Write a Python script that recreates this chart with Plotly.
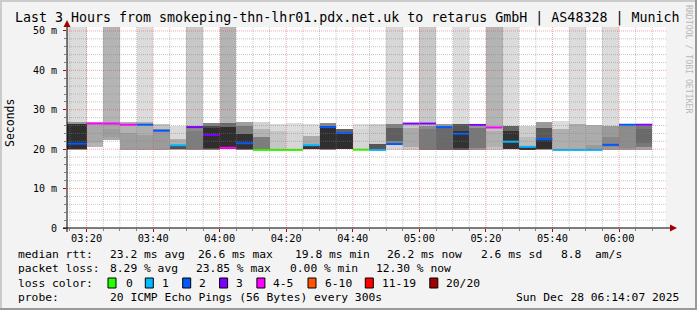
import plotly.graph_objects as go
import pandas as pd

# ---------------- data ----------------
GRAPH_START = pd.Timestamp("2025-12-28 03:14:07")
GRAPH_END = pd.Timestamp("2025-12-28 06:14:07")
Y_MAX = 51.0
TOP = 60.0  # smoke going off the top of the scale

# end time of every 5-minute (300 s) sample
block_end = list(pd.date_range("2025-12-28 03:20", periods=35, freq="5min"))

median_ms = [21.4, 26.5, 26.5, 26.2, 26.2, 24.7, 21.0, 25.6, 23.6, 20.35,
             21.5, 19.8, 19.8, 19.8, 21.0, 25.6, 24.1, 19.85, 19.8, 21.3,
             26.5, 26.5, 25.6, 23.9, 26.15, 25.5, 21.9, 20.6, 22.5, 19.8,
             19.8, 19.8, 21.1, 26.2, 26.2]
loss_class = [2, 4, 4, 4, 2, 2, 1, 3, 3, 4, 2, 0, 0, 0, 1, 2, 2, 0, 1, 2,
              3, 3, 2, 2, 3, 4, 1, 1, 2, 1, 1, 1, 2, 2, 3]

# smoke layers (outer -> inner): low, high, gray level
smoke1_lo = [19.7, 20.6, 22.4, 19.8, 19.8, 19.8, 19.9, 19.8, 19.8, 20.0,
             19.8, 19.8, 19.8, 19.8, 19.9, 19.9, 20.0, 19.8, 19.8, 19.7,
             19.8, 19.8, 19.8, 19.8, 19.8, 19.7, 19.8, 20.0, 19.9, 19.8,
             19.8, 19.8, 19.8, 19.8, 19.8]
smoke1_hi = [TOP, 27.0, TOP, 26.9, TOP, 26.3, 25.9, TOP, 26.6, TOP,
             27.0, 27.0, 26.5, 26.6, 26.5, 26.6, 25.2, 26.4, 26.5, TOP,
             26.4, TOP, 26.5, TOP, 26.3, TOP, TOP, 25.8, 27.0, 27.2,
             TOP, 26.1, TOP, 26.4, 26.4]
smoke1_gray = [220, 180, 180, 178, 220, 195, 218, 200, 130, 180,
               160, 210, 218, 222, 220, 136, 100, 222, 205, 215,
               200, 200, 155, 220, 150, 180, 220, 205, 155, 220,
               220, 172, 220, 155, 165]

smoke2_lo = [19.8, 21.5, 22.4, 19.8, 19.8, 19.9, 19.9, 19.8, 20.0, 20.0,
             19.9, 19.8, 19.8, 19.8, 20.0, 20.0, 20.0, 19.8, 19.8, 21.3,
             20.5, 19.8, 19.9, 19.9, 20.2, 19.7, 20.0, 20.0, 20.0, 19.8,
             19.8, 19.8, 19.8, 20.2, 20.5]
smoke2_hi = [26.8, 26.0, 26.8, 24.0, 26.8, 25.0, 22.7, 25.8, 26.0, 26.6,
             26.0, 25.0, 24.5, 24.5, 23.3, 26.0, 24.0, 25.0, 21.2, 26.5,
             25.5, 26.0, 25.4, 26.4, 25.5, 25.5, 25.8, 23.0, 25.5, 25.0,
             26.3, 21.0, 26.0, 25.8, 26.0]
smoke2_gray = [150, 168, 168, 158, 175, 155, 175, 140, 75, 105,
               120, 180, 198, 214, 170, 46, 46, 214, 85, 130,
               170, 140, 106, 85, 120, 195, 100, 188, 90, 175,
               172, 155, 155, 140, 120]

smoke3_lo = [20.1, None, 23.0, None, 19.8, None, 20.0, 20.0, 20.2, 20.1,
             20.0, 19.8, None, None, 20.0, None, None, None, None, 22.0,
             None, 19.9, None, 20.2, None, 20.5, 20.1, 20.0, 20.0, None,
             None, None, 20.5, None, 21.5]
smoke3_hi = [26.3, None, 25.0, None, 23.5, None, 21.0, 24.5, 25.3, 25.7,
             23.8, 23.0, None, None, 20.8, None, None, None, None, 25.5,
             None, 25.0, None, 24.5, None, 24.5, 24.5, 20.5, 22.4, None,
             None, None, 23.0, None, 25.0]
smoke3_gray = [46, None, 158, None, 158, None, 80, 125, 46, 46,
               50, 125, None, None, 50, None, None, None, None, 95,
               None, 122, None, 50, None, 176, 50, 50, 46, None,
               None, None, 136, None, 106]

loss_labels = ["0", "1", "2", "3", "4-5", "6-10", "11-19", "20/20"]
loss_colors = ["#26ff00", "#00b8ff", "#0059ff", "#7e00ff", "#ff00ff",
               "#ff5500", "#ff0000", "#a10000"]

x_tick_times = list(pd.date_range("2025-12-28 03:20", "2025-12-28 06:00", freq="20min"))
x_tick_labels = [t.strftime("%H:%M") for t in x_tick_times]
y_tick_vals = [0, 10, 20, 30, 40, 50]
y_tick_labels = ["0", "10 m", "20 m", "30 m", "40 m", "50 m"]

title_text = "Last 3 Hours from smokeping-thn-lhr01.pdx.net.uk to retarus GmbH | AS48328 | Munich"
rtt_items = ["median rtt:", "23.2 ms avg", "26.6 ms max", "19.8 ms min",
             "26.2 ms now", "2.6 ms sd", "8.8", "am/s"]
loss_items = ["packet loss:", "8.29 % avg", "23.85 % max", "0.00 % min", "12.30 % now"]
probe_items = ["probe:", "20 ICMP Echo Pings (56 Bytes) every 300s"]
stamp_text = "Sun Dec 28 06:14:07 2025"

# ---------------- geometry helpers ----------------
W, H = 697, 310
PL, PR, PT, PB = 67, 666, 27, 228


def px(xp):
    return (xp - PL) / (PR - PL)


def py(yp):
    return (PB - yp) / (PB - PT)


block_start = [GRAPH_START] + block_end[:-1]
centers = [s + (e - s) / 2 for s, e in zip(block_start, block_end)]
widths = [(e - s).total_seconds() * 1000 for s, e in zip(block_start, block_end)]

fig = go.Figure()


def gray(g):
    return None if g is None else "rgb(%d,%d,%d)" % (g, g, g)


for lo_l, hi_l, g_l in [(smoke1_lo, smoke1_hi, smoke1_gray),
                        (smoke2_lo, smoke2_hi, smoke2_gray),
                        (smoke3_lo, smoke3_hi, smoke3_gray)]:
    xs, bs, hs, ws, cs = [], [], [], [], []
    for c, w, lo, hi, g in zip(centers, widths, lo_l, hi_l, g_l):
        if lo is None:
            continue
        xs.append(c)
        bs.append(lo)
        hs.append(hi - lo)
        ws.append(w)
        cs.append(gray(g))
    fig.add_trace(go.Bar(x=xs, y=hs, base=bs, width=ws,
                         marker=dict(color=cs, line=dict(width=0)),
                         hoverinfo="skip"))

# median lines, coloured by loss
for ci, col in enumerate(loss_colors):
    xs, ys = [], []
    for s, e, m, lc in zip(block_start, block_end, median_ms, loss_class):
        if lc == ci:
            xs += [s, e, None]
            ys += [m, m, None]
    if xs:
        fig.add_trace(go.Scatter(x=xs, y=ys, mode="lines",
                                 line=dict(color=col, width=2),
                                 hoverinfo="skip", connectgaps=False))

# grid drawn over the graph (rrdtool style)
minor_times = [t for t in pd.date_range("2025-12-28 03:15", "2025-12-28 06:10", freq="5min")
               if t.minute % 20 != 0]
gx, gy = [], []
for t in minor_times:
    gx += [t, t, None]
    gy += [0, Y_MAX, None]
for v in range(2, 51, 2):
    if v % 10:
        gx += [GRAPH_START, GRAPH_END, None]
        gy += [v, v, None]
fig.add_trace(go.Scatter(x=gx, y=gy, mode="lines",
                         line=dict(color="rgba(128,128,128,0.45)", width=1, dash="1px,1px"),
                         hoverinfo="skip"))
mx, my = [], []
for t in x_tick_times:
    mx += [t, t, None]
    my += [0, Y_MAX, None]
for v in y_tick_vals[1:]:
    mx += [GRAPH_START, GRAPH_END, None]
    my += [v, v, None]
fig.add_trace(go.Scatter(x=mx, y=my, mode="lines",
                         line=dict(color="rgba(230,60,60,0.45)", width=1, dash="1px,1px"),
                         hoverinfo="skip"))

MONO = "DejaVu Sans Mono"

annotations = []


def txt(x, y, s, size=11.3, xanchor="left", color="#000000", angle=0):
    annotations.append(dict(x=px(x), y=py(y), xref="paper", yref="paper", text=s,
                            showarrow=False, xanchor=xanchor, yanchor="middle",
                            textangle=angle,
                            font=dict(family=MONO, size=size, color=color)))


txt(347, 18, title_text, size=13.3, xanchor="center")
txt(10, 123, "Seconds", size=11.5, xanchor="center", angle=-90)
txt(689, 59, "RRDTOOL / TOBI OETIKER", size=8.2, xanchor="center", color="#b8b8b8", angle=90)

rtt_x = [16, 108, 195.6, 293.3, 384.9, 479.1, 558.7, 593]
for x, s in zip(rtt_x, rtt_items):
    txt(x, 254, s)
loss_x = [16, 108, 194.2, 288, 374.2]
for x, s in zip(loss_x, loss_items):
    txt(x, 268.5, s)
txt(16, 283, "loss color:")
box_x = [108, 145.3, 182.7, 219.6, 256.9, 308, 365.3, 429.8]
lab_x = [123.6, 160, 196.9, 233.8, 271.1, 322.7, 380, 444.4]
shapes = []
for bx, lx, lab, col in zip(box_x, lab_x, loss_labels, loss_colors):
    txt(lx, 283, lab)
    shapes.append(dict(type="rect", xref="paper", yref="paper",
                       x0=px(bx), x1=px(bx + 8), y0=py(288), y1=py(278),
                       fillcolor=col, line=dict(color="#000000", width=1)))
for x, s in zip([16, 108], probe_items):
    txt(x, 297, s)
txt(681, 297, stamp_text, xanchor="right")

# axes with arrows
shapes.append(dict(type="line", xref="paper", yref="paper", x0=px(63), x1=px(672),
                   y0=py(228), y1=py(228), line=dict(color="#000000", width=1)))
shapes.append(dict(type="line", xref="paper", yref="paper", x0=px(67), x1=px(67),
                   y0=py(232), y1=py(25), line=dict(color="#000000", width=1)))
shapes.append(dict(type="path", xref="paper", yref="paper",
                   path="M %f %f L %f %f L %f %f Z" % (px(63.5), py(27), px(70.5), py(27), px(67), py(20)),
                   fillcolor="#a00000", line=dict(width=0)))
shapes.append(dict(type="path", xref="paper", yref="paper",
                   path="M %f %f L %f %f L %f %f Z" % (px(670), py(224.5), px(670), py(231.5), px(677), py(228)),
                   fillcolor="#a00000", line=dict(width=0)))
# frame
shapes.append(dict(type="line", xref="paper", yref="paper", x0=px(0), x1=px(697),
                   y0=py(1), y1=py(1), line=dict(color="#cbcbcb", width=2)))
shapes.append(dict(type="line", xref="paper", yref="paper", x0=px(1), x1=px(1),
                   y0=py(0), y1=py(310), line=dict(color="#cbcbcb", width=2)))
shapes.append(dict(type="line", xref="paper", yref="paper", x0=px(0), x1=px(697),
                   y0=py(309), y1=py(309), line=dict(color="#999999", width=2)))
shapes.append(dict(type="line", xref="paper", yref="paper", x0=px(696), x1=px(696),
                   y0=py(0), y1=py(310), line=dict(color="#999999", width=2)))

fig.update_layout(
    width=W, height=H, autosize=False,
    margin=dict(l=PL, r=W - PR, t=PT, b=H - PB, pad=0),
    paper_bgcolor="#f3f3f3", plot_bgcolor="#ffffff",
    showlegend=False, barmode="overlay", bargap=0,
    annotations=annotations, shapes=shapes,
    xaxis=dict(type="date", range=[GRAPH_START, GRAPH_END], showgrid=False,
               zeroline=False, showline=False, tickvals=x_tick_times,
               ticktext=x_tick_labels, ticks="outside", ticklen=3,
               ticklabelstandoff=-2,
               tickcolor="#c00000", tickfont=dict(family=MONO, size=10.3, color="#000000"),
               minor=dict(ticks="outside", ticklen=2, tickcolor="#808080",
                          tickvals=minor_times, showgrid=False)),
    yaxis=dict(range=[0, Y_MAX], showgrid=False, zeroline=False, showline=False,
               tickvals=y_tick_vals, ticktext=y_tick_labels, ticks="outside",
               ticklen=3, tickcolor="#c00000", ticklabelstandoff=4,
               tickfont=dict(family=MONO, size=10, color="#000000"),
               minor=dict(ticks="outside", ticklen=2, tickcolor="#808080", dtick=2,
                          showgrid=False)),
)

fig.write_html("out.html")
